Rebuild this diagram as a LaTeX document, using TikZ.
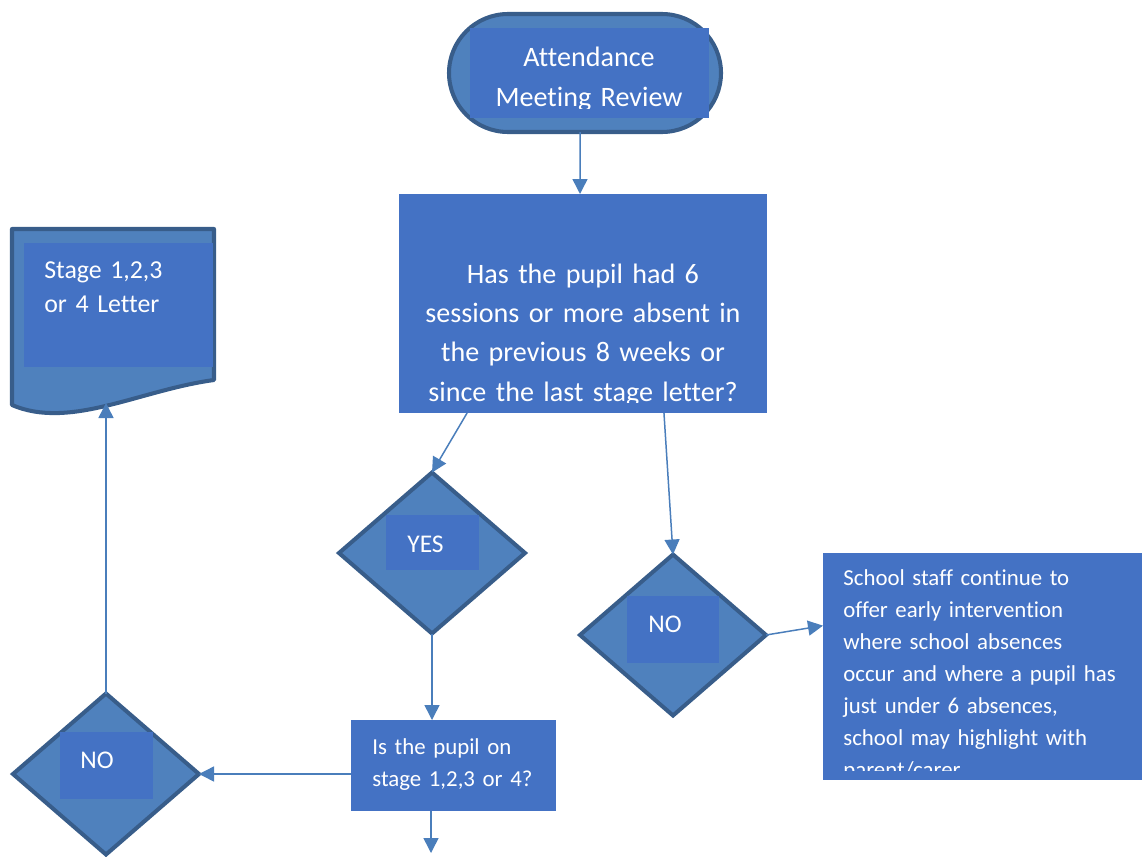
\documentclass[tikz,border=0pt]{standalone}
\usepackage{fontspec}
\setmainfont{Carlito}[Ligatures=NoCommon]
\usetikzlibrary{shapes.geometric,arrows.meta,calc}
\definecolor{shapefill}{HTML}{4F81BD}
\definecolor{shapeline}{HTML}{385D8A}
\definecolor{boxfill}{HTML}{4472C4}
\definecolor{linkblue}{HTML}{4A7EBB}

\tikzset{
  outerbox/.style={fill=shapefill,draw=shapeline,line width=2.3pt,outer sep=0pt},
  textbox/.style={fill=boxfill,inner sep=0pt,outer sep=0pt},
  decision/.style={outerbox,diamond,inner sep=0pt,minimum width=3.72cm,minimum height=3.22cm},
  bigtext/.style={text=white,inner sep=0pt,font=\fontsize{16}{22.4}\selectfont,text width=7cm,align=center,anchor=base},
  midtext/.style={text=white,inner sep=0pt,font=\fontsize{14.7}{19.9}\selectfont,text width=3.5cm,align=left,anchor=base west},
  smalltext/.style={text=white,inner sep=0pt,font=\fontsize{13}{18.3}\selectfont,text width=6cm,align=left,anchor=base west},
  answertext/.style={text=white,inner sep=0pt,font=\fontsize{14.5}{18}\selectfont,anchor=base west},
  flowarrow/.style={draw=linkblue,line width=0.85pt,-{Triangle[length=0.3cm,width=0.3cm]}}
}

\begin{document}
\begin{tikzpicture}
  \useasboundingbox (0,0) rectangle (22.84,-17.12);

  % Start
  \node[outerbox,rounded corners=1.18cm,minimum width=5.44cm,minimum height=2.36cm] (term) at (11.70,-1.46) {};
  \node[textbox,minimum width=4.78cm,minimum height=1.80cm] (termbox) at (11.79,-1.46) {};
  \begin{scope}
    \clip (termbox.north west) rectangle ($(termbox.east)+(0,-0.70)$);
    \node[bigtext] (termtext) at (11.78,-1.34) {Attendance\\Meeting Review};
  \end{scope}

  % Question
  \node[textbox,minimum width=7.36cm,minimum height=4.38cm] (q) at (11.66,-6.07) {};
  \begin{scope}
    \clip (q.north west) rectangle ($(q.south east)+(0,0.22)$);
    \node[bigtext] (qtext) at (11.66,-5.66) {Has the pupil had 6\\sessions or more absent in\\the previous 8 weeks or\\since the last stage letter?};
  \end{scope}

  % Letter
  \coordinate (docA) at (0.24,-4.58);
  \coordinate (docB) at (4.28,-4.58);
  \coordinate (docC) at (4.28,-7.60);
  \coordinate (docD) at (0.24,-8.10);
  \draw[outerbox,line join=round] (docD) -- (docA) -- (docB) -- (docC)
    .. controls (2.80,-7.80) and (1.40,-8.60) .. (docD) -- cycle;
  \node[textbox,minimum width=3.78cm,minimum height=2.48cm] (doc) at (2.37,-6.10) {};
  \node[midtext] (doctext) at (0.88,-5.56) {Stage 1,2,3\\or 4 Letter};
  \coordinate (docb) at (2.12,-8.06);

  % Decisions
  \node[decision] (yes) at (8.64,-11.06) {};
  \node[textbox,minimum width=1.86cm,minimum height=1.10cm] (yesbox) at (8.65,-10.85) {};
  \node[answertext] at (8.14,-11.04) {YES};

  \node[decision] (nor) at (13.46,-12.70) {};
  \node[textbox,minimum width=1.84cm,minimum height=1.34cm] (norbox) at (13.46,-12.59) {};
  \node[answertext] at (12.96,-12.64) {NO};

  \node[decision] (nol) at (2.12,-15.48) {};
  \node[textbox,minimum width=1.86cm,minimum height=1.34cm] (nolbox) at (2.13,-15.31) {};
  \node[answertext] at (1.60,-15.36) {NO};

  % Early intervention
  \node[textbox,minimum width=6.38cm,minimum height=4.54cm] (rbox) at (19.65,-13.33) {};
  \begin{scope}
    \clip (rbox.north west) rectangle ($(rbox.south east)+(0,0.20)$);
    \node[smalltext] (rtext) at (16.86,-11.70) {School staff continue to\\offer early intervention\\where school absences\\occur and where a pupil has\\just under 6 absences,\\school may highlight with\\parent/carer};
  \end{scope}

  % Stage check
  \node[textbox,minimum width=4.10cm,minimum height=1.82cm] (sq) at (9.07,-15.31) {};
  \node[smalltext] (sqtext) at (7.44,-15.08) {Is the pupil on\\stage 1,2,3 or 4?};
  \coordinate (endp) at (8.62,-17.06);

  % Connectors
  \draw[flowarrow] ([xshift=-0.1cm]term.south) -- ([xshift=-0.06cm]q.north);
  \draw[flowarrow] ($(q.south west)!0.185!(q.south east)$) -- (yes.north);
  \draw[flowarrow] ($(q.south west)!0.72!(q.south east)$) -- (nor.north);
  \draw[flowarrow] (nor.east) -- ($(rbox.north west)!0.32!(rbox.south west)$);
  \draw[flowarrow] (yes.south) -- (yes.south |- sq.north);
  \draw[flowarrow] (sq.west |- nol.east) -- (nol.east);
  \draw[flowarrow] (nol.north) -- (docb);
  \draw[flowarrow] (sq.south -| endp) -- (endp);
\end{tikzpicture}
\end{document}
